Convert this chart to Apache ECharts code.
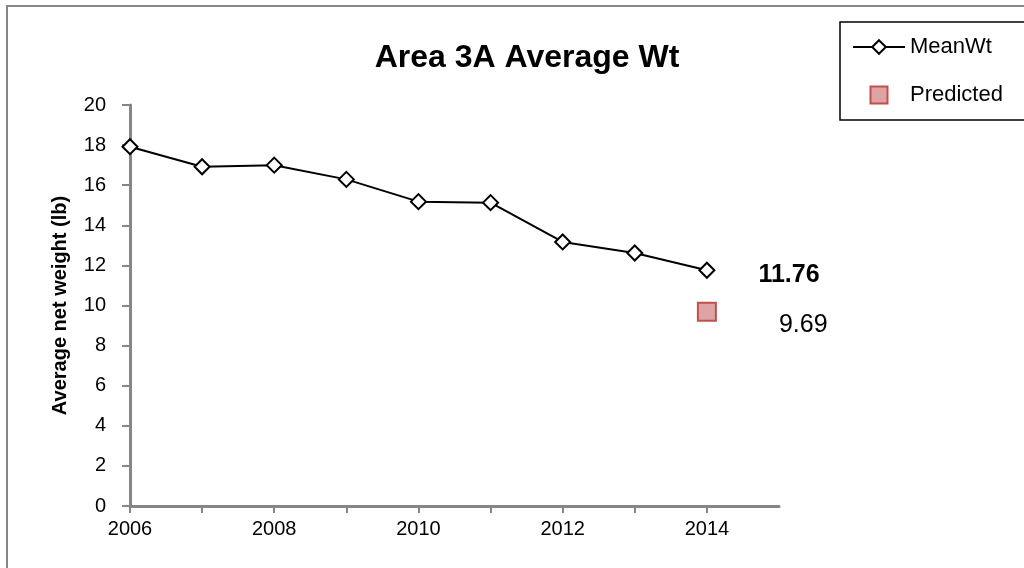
<!DOCTYPE html>
<html>
<head>
<meta charset="utf-8">
<script src="https://cdn.jsdelivr.net/npm/echarts@6/dist/echarts.min.js"></script>
<style>
    html, body { margin: 0; padding: 0; background: #fff; }
    #chart { width: 1024px; height: 568px; }
</style>
</head>
<body>
<div id="chart"></div>
<script>
var years = [2006, 2007, 2008, 2009, 2010, 2011, 2012, 2013, 2014];
var meanWt = [17.92, 16.92, 17.0, 16.29, 15.18, 15.13, 13.17, 12.62, 11.76];
var predYear = [2014];
var predicted = [9.69];

var font = "Liberation Sans";
var axisGrey = "#868686";

var chart = echarts.init(document.getElementById("chart"));

// MeanWt points, the last one carries the bold value label
var meanData = years.map(function(y, i) {
    var d = { value: [y, meanWt[i]] };
    if (i == years.length - 1) {
        d.label = {
            show: true,
            position: "right",
            distance: 5,
            offset: [38, 5],
            formatter: String(meanWt[i]),
            fontFamily: font,
            fontSize: 25,
            fontWeight: "bold",
            color: "#000"
        };
    }
    return d;
});
var predData = predYear.map(function(y, i) {
    return {
        value: [y, predicted[i]],
        label: {
            show: true,
            position: "right",
            distance: 5,
            offset: [57, 13],
            formatter: String(predicted[i]),
            fontFamily: font,
            fontSize: 25,
            color: "#000",
            opacity: 1
        }
    };
});

var option = {
    animation: false,
    backgroundColor: "#fff",
    title: {
        text: "Area 3A Average Wt",
        left: 522,
        top: 37,
        textAlign: "center",
        textStyle: { fontFamily: font, fontSize: 32, fontWeight: "bold", color: "#000" }
    },
    legend: {
        orient: "vertical",
        left: 840,
        top: 22,
        padding: [14, 40, 14, 12],
        itemGap: 26,
        itemWidth: 52,
        itemHeight: 17,
        symbolKeepAspect: true,
        borderColor: "#000",
        borderWidth: 1.5,
        textStyle: { fontFamily: font, fontSize: 22, color: "#000" },
        data: [
            { name: "MeanWt" },
            { name: "Predicted", icon: "path://M0,0L10,0L10,10L0,10Z" }
        ]
    },
    grid: { left: 130, right: 245, top: 105, bottom: 62 },
    xAxis: {
        type: "value",
        min: 2006,
        max: 2015,
        interval: 1,
        axisLine: { lineStyle: { color: axisGrey, width: 3 } },
        axisTick: { show: true, length: 7, lineStyle: { color: axisGrey, width: 2 } },
        splitLine: { show: false },
        axisLabel: {
            margin: 13,
            showMaxLabel: false,
            fontFamily: font,
            fontSize: 20,
            color: "#000",
            formatter: function(v) { return v % 2 == 0 ? String(v) : ""; }
        }
    },
    yAxis: {
        type: "value",
        min: 0,
        max: 20,
        interval: 2,
        name: "Average net weight (lb)",
        nameLocation: "middle",
        nameGap: 60,
        nameTextStyle: { fontFamily: font, fontSize: 20, fontWeight: "bold", color: "#000" },
        axisLine: { show: true, lineStyle: { color: axisGrey, width: 3 } },
        axisTick: { show: true, length: 8, lineStyle: { color: axisGrey, width: 2 } },
        splitLine: { show: false },
        axisLabel: { margin: 24, fontFamily: font, fontSize: 20, color: "#000" }
    },
    series: [
        {
            name: "MeanWt",
            type: "line",
            data: meanData,
            symbol: "diamond",
            symbolSize: 15,
            lineStyle: { color: "#000", width: 2 },
            itemStyle: { color: "#fff", borderColor: "#000", borderWidth: 2 },
            z: 3
        },
        {
            name: "Predicted",
            type: "scatter",
            data: predData,
            symbol: "rect",
            symbolSize: 18,
            itemStyle: { color: "#dea3a3", borderColor: "#c0504d", borderWidth: 2, opacity: 1 }
        }
    ],
    graphic: [{
        type: "rect",
        shape: { x: 7, y: 6, width: 1100, height: 700 },
        style: { fill: null, stroke: axisGrey, lineWidth: 2 },
        silent: true
    }]
};

chart.setOption(option);
</script>
</body>
</html>
